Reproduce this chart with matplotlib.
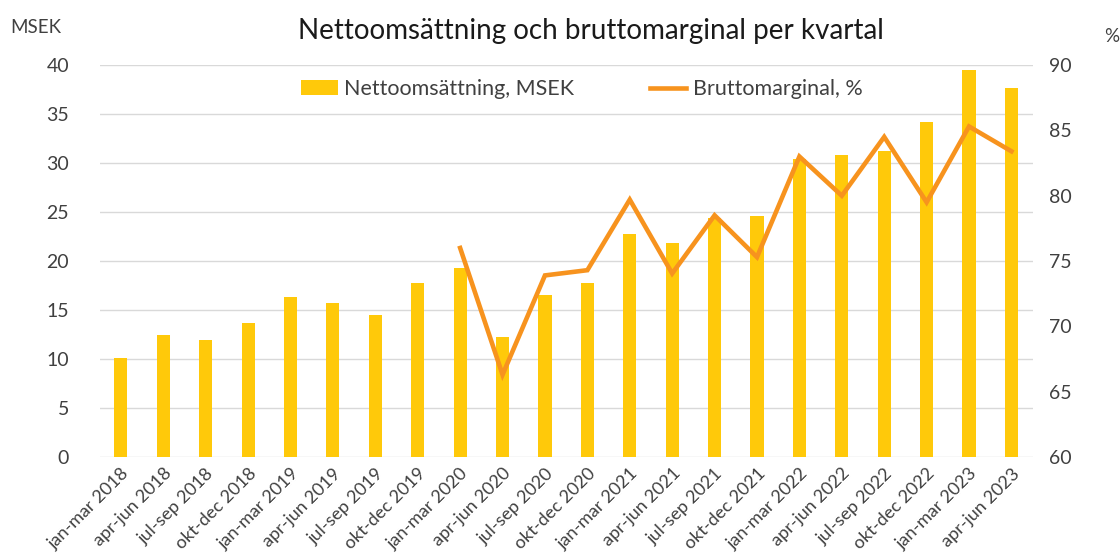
"""Nettoomsättning och bruttomarginal per kvartal."""

import matplotlib
matplotlib.use("Agg")
import matplotlib.pyplot as plt
import numpy as np

plt.rcParams['font.family'] = ['Lato', 'DejaVu Sans']

quarters = [
    'jan-mar 2018', 'apr-jun 2018', 'jul-sep 2018', 'okt-dec 2018',
    'jan-mar 2019', 'apr-jun 2019', 'jul-sep 2019', 'okt-dec 2019',
    'jan-mar 2020', 'apr-jun 2020', 'jul-sep 2020', 'okt-dec 2020',
    'jan-mar 2021', 'apr-jun 2021', 'jul-sep 2021', 'okt-dec 2021',
    'jan-mar 2022', 'apr-jun 2022', 'jul-sep 2022', 'okt-dec 2022',
    'jan-mar 2023', 'apr-jun 2023',
]
sales_msek = [
    10.1, 12.5, 11.9, 13.7, 16.3, 15.7, 14.5, 17.8, 19.3, 12.2, 16.5,
    17.75, 22.8, 21.8, 24.4, 24.6, 30.4, 30.8, 31.2, 34.2, 39.5, 37.7,
]
# gross margin is reported from jan-mar 2020 onwards
margin_quarters = quarters[8:]
margin_pct = [76.0, 66.3, 73.9, 74.3, 79.7, 74.05, 78.5, 75.3, 83.0,
              80.0, 84.5, 79.5, 85.3, 83.4]

bar_color = '#FFC90A'
line_color = '#F7931E'
text_color = '#404040'

fig = plt.figure(figsize=(11.2, 5.56), dpi=100)
ax = fig.add_axes([0.089, 0.178, 0.833, 0.705])
ax2 = ax.twinx()

x = np.arange(len(quarters))
bars = ax.bar(x, sales_msek, width=0.31, color=bar_color,
              label='Nettoomsättning, MSEK', zorder=2)
mx = np.array([quarters.index(q) for q in margin_quarters])
line, = ax2.plot(mx, margin_pct, color=line_color, linewidth=3.3,
                 label='Bruttomarginal, %', solid_joinstyle='miter')

ax.set_xlim(-0.5, len(quarters) - 0.5)
ax.set_ylim(0, 40)
ax.set_yticks(np.arange(0, 41, 5))
ax2.set_ylim(60, 90)
ax2.set_yticks(np.arange(60, 91, 5))

ax.yaxis.grid(True, color='#D9D9D9', linewidth=1, zorder=0)
ax.set_axisbelow(True)
for a in (ax, ax2):
    for s in a.spines.values():
        s.set_visible(False)
    a.tick_params(length=0, colors=text_color, labelsize=14)
ax.tick_params(axis='y', pad=22)
ax2.tick_params(axis='y', pad=12)

ax.set_xticks(x)
ax.set_xticklabels(quarters, rotation=45, ha='right',
                   rotation_mode='anchor', fontsize=13)
ax.tick_params(axis='x', pad=6)

fig.text(0.528, 0.945, 'Nettoomsättning och bruttomarginal per kvartal',
         ha='center', va='center', fontsize=20, color='#1A1A1A')
fig.text(0.009, 0.95, 'MSEK', ha='left', va='center', fontsize=13.5,
         color=text_color)
fig.text(0.986, 0.935, '%', ha='left', va='center', fontsize=13.5,
         color=text_color)

ax2.legend([bars, line], ['Nettoomsättning, MSEK', 'Bruttomarginal, %'],
           loc='center', bbox_to_anchor=(0.517, 0.938), ncol=2,
           frameon=False, handlelength=1.7,
           handletextpad=0.3, columnspacing=3.5, labelcolor=text_color,
           prop={'size': 15.5})

fig.savefig('out.png', dpi=100)
